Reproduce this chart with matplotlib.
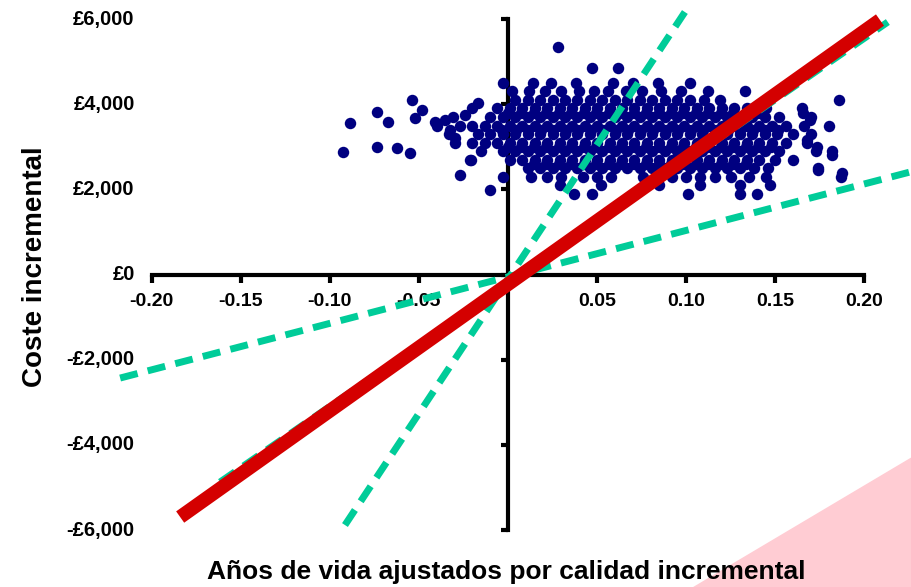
import matplotlib
matplotlib.use("Agg")
import matplotlib.pyplot as plt
from matplotlib.patches import Polygon
import numpy as np

plt.rcParams["font.family"] = ["Liberation Sans", "DejaVu Sans"]
plt.rcParams["font.weight"] = "bold"

# axis ticks
x_ticks = [-0.20, -0.15, -0.10, -0.05, 0.05, 0.10, 0.15, 0.20]
x_tick_labels = ["-0.20", "-0.15", "-0.10", "-0.05", "0.05", "0.10", "0.15", "0.20"]
y_ticks = [6000, 4000, 2000, 0, -2000, -4000, -6000]
y_tick_labels = ["£6,000", "£4,000", "£2,000", "£0", "-£2,000", "-£4,000", "-£6,000"]

# threshold lines (end points)
red_x = [-0.184, 0.2088]
red_y = [-5695, 5977]
green_steep_x = [-0.0915, 0.0993]
green_steep_y = [-5883, 6165]
green_flat_x = [-0.2177, 0.2256]
green_flat_y = [-2431, 2407]
green_mid_x = [-0.1616, 0.2132]
green_mid_y = [-4873, 5930]

# bootstrap cloud, read row by row (cost level -> incremental QALYs)
cost_levels = [5350, 4850, 4500, 4300, 4100, 3900, 3700, 3500, 3300, 3100,
               2900, 2700, 2500, 2300, 2100, 1900]
qaly_rows = [
    [0.028],
    [0.047, 0.062],
    [-0.003, 0.014, 0.024, 0.038, 0.059, 0.070, 0.084, 0.102],
    [0.002, 0.012, 0.021, 0.030, 0.040, 0.048, 0.056, 0.066, 0.075, 0.086,
     0.097, 0.112, 0.133],
    [0.004, 0.011, 0.018, 0.025, 0.032, 0.039, 0.046, 0.053, 0.060, 0.067,
     0.074, 0.081, 0.088, 0.095, 0.102, 0.110, 0.119, 0.186],
    [-0.020, -0.006, 0.001, 0.008, 0.015, 0.022, 0.029, 0.036, 0.043, 0.050,
     0.057, 0.064, 0.071, 0.078, 0.085, 0.092, 0.099, 0.106, 0.113, 0.120,
     0.127, 0.134, 0.145, 0.165],
    [-0.031, -0.010, -0.003, 0.004, 0.011, 0.018, 0.025, 0.032, 0.039, 0.046,
     0.053, 0.060, 0.067, 0.074, 0.081, 0.088, 0.095, 0.102, 0.109, 0.116,
     0.123, 0.130, 0.137, 0.144, 0.152, 0.170],
    [-0.040, -0.027, -0.020, -0.013, -0.006, 0.001, 0.008, 0.015, 0.022, 0.029,
     0.036, 0.043, 0.050, 0.057, 0.064, 0.071, 0.078, 0.085, 0.092, 0.099,
     0.106, 0.113, 0.120, 0.127, 0.134, 0.141, 0.148, 0.156, 0.166, 0.180],
    [-0.033, -0.017, -0.010, -0.003, 0.004, 0.011, 0.018, 0.025, 0.032, 0.039,
     0.046, 0.053, 0.060, 0.067, 0.074, 0.081, 0.088, 0.095, 0.102, 0.109,
     0.116, 0.123, 0.130, 0.137, 0.144, 0.151, 0.160, 0.170],
    [-0.030, -0.020, -0.013, -0.006, 0.001, 0.008, 0.015, 0.022, 0.029, 0.036,
     0.043, 0.050, 0.057, 0.064, 0.071, 0.078, 0.085, 0.092, 0.099, 0.106,
     0.113, 0.120, 0.127, 0.134, 0.141, 0.148, 0.156, 0.168],
    [-0.015, -0.003, 0.004, 0.011, 0.018, 0.025, 0.032, 0.039, 0.046, 0.053,
     0.060, 0.067, 0.074, 0.081, 0.088, 0.095, 0.102, 0.109, 0.116, 0.123,
     0.130, 0.137, 0.144, 0.152, 0.173, 0.182],
    [-0.021, 0.001, 0.008, 0.015, 0.022, 0.029, 0.036, 0.043, 0.050, 0.057,
     0.064, 0.071, 0.078, 0.085, 0.092, 0.099, 0.106, 0.113, 0.120, 0.127,
     0.134, 0.141, 0.150, 0.160],
    [0.011, 0.018, 0.025, 0.032, 0.039, 0.046, 0.053, 0.060, 0.067, 0.074,
     0.081, 0.088, 0.095, 0.102, 0.109, 0.116, 0.123, 0.130, 0.138, 0.146,
     0.174],
    [-0.003, 0.013, 0.022, 0.030, 0.042, 0.050, 0.058, 0.076, 0.084, 0.092,
     0.100, 0.108, 0.116, 0.125, 0.135, 0.145, 0.187],
    [0.029, 0.052, 0.085, 0.108, 0.130, 0.147],
    [0.037, 0.047, 0.101, 0.130, 0.140],
]

# the densest part of the cloud, between the rows above
core_levels = [3800, 3400, 3000, 2600]
core_rows = [
    [0.000, 0.0075, 0.0145, 0.0215, 0.0285, 0.0355, 0.0425, 0.0495, 0.0565,
     0.0635, 0.0705, 0.0775, 0.0845, 0.0915, 0.0985, 0.1055, 0.1125, 0.1195,
     0.1265, 0.1335, 0.1405],
    [-0.0035, 0.0045, 0.0115, 0.0185, 0.0255, 0.0325, 0.0395, 0.0465, 0.0535,
     0.0605, 0.0675, 0.0745, 0.0815, 0.0885, 0.0955, 0.1025, 0.1095, 0.1165,
     0.1235, 0.1305, 0.1375, 0.1445, 0.1515],
    [0.000, 0.0075, 0.0145, 0.0215, 0.0285, 0.0355, 0.0425, 0.0495, 0.0565,
     0.0635, 0.0705, 0.0775, 0.0845, 0.0915, 0.0985, 0.1055, 0.1125, 0.1195,
     0.1265, 0.1335, 0.1405, 0.1475],
    [0.0145, 0.0215, 0.0285, 0.0355, 0.0425, 0.0495, 0.0565, 0.0635, 0.0705,
     0.0775, 0.0845, 0.0915, 0.0985, 0.1055, 0.1125, 0.1195, 0.1265, 0.1335],
]

# scattered points away from the main cloud
outlier_x = [-0.0926, -0.0887, -0.0735, -0.0735, -0.0673, -0.0623, -0.0550,
             -0.0539, -0.0522, -0.0483, -0.0410, -0.0354, -0.0325, -0.0297,
             -0.0269, -0.0168, -0.0101, -0.0213, -0.0240,
             0.1655, 0.1695, 0.1680, 0.1734, 0.1820, 0.1740, 0.1874]
outlier_y = [2880, 3560, 3820, 2995, 3580, 2970, 2850,
             4100, 3675, 3860, 3580, 3630, 3390, 3200,
             2340, 4030, 1985, 2690, 3750,
             3790, 3630, 3160, 2995, 2800, 2450, 2380]

all_rows = qaly_rows + core_rows
all_levels = cost_levels + core_levels
cloud_x = np.concatenate([np.array(r) for r in all_rows] + [np.array(outlier_x)])
cloud_y = np.concatenate([np.full(len(r), c) for r, c in zip(all_rows, all_levels)]
                         + [np.array(outlier_y)])

fig = plt.figure(figsize=(9.12, 5.87), dpi=100)
fig.patches.append(Polygon([[0.760, 0.0], [1.0, 0.2215], [1.0, 0.0]], closed=True,
                           transform=fig.transFigure, facecolor="#ffccd3",
                           edgecolor="none", zorder=-1))

ax = fig.add_axes([0.1155, 0.0753, 0.883, 0.8995])
ax.patch.set_visible(False)
ax.set_xlim(-0.226, 0.226)
ax.set_ylim(-6300, 6100)

ax.scatter(cloud_x, cloud_y, s=68, color="#000080", linewidths=0, zorder=3)

green = "#00cc99"
dash = (0, (2.6, 1.5))
for gx, gy in [(green_steep_x, green_steep_y), (green_flat_x, green_flat_y),
               (green_mid_x, green_mid_y)]:
    ax.plot(gx, gy, color=green, lw=5, linestyle=dash, dash_capstyle="butt",
            zorder=4, clip_on=False)
ax.plot(red_x, red_y, color="#d40000", lw=10, solid_capstyle="butt", zorder=5,
        clip_on=False)

for side in ["top", "right"]:
    ax.spines[side].set_visible(False)
ax.spines["left"].set_position(("data", 0))
ax.spines["bottom"].set_position(("data", 0))
ax.spines["left"].set_bounds(-6000, 6000)
ax.spines["bottom"].set_bounds(-0.2, 0.2)
for side in ["left", "bottom"]:
    ax.spines[side].set_linewidth(3)
    ax.spines[side].set_zorder(2)

ax.set_xticks(x_ticks, x_tick_labels)
ax.set_yticks(y_ticks)
ax.tick_params(axis="x", direction="out", length=6, width=3, pad=7, labelsize=14)
ax.tick_params(axis="y", direction="out", length=5, width=3, labelleft=False)
for lab in ax.get_xticklabels():
    lab.set_fontweight("bold")

for val, lab in zip(y_ticks, y_tick_labels):
    ax.text(-0.2095, val, lab, ha="right", va="center", fontsize=14.5,
            fontweight="bold")

fig.text(0.038, 1 - 267 / 587, "Coste incremental", rotation=90, ha="center",
         va="center", fontsize=20, fontweight="bold")
fig.text(506 / 912, 1 - 572 / 587, "Años de vida ajustados por calidad incremental",
         ha="center", va="center", fontsize=19, fontweight="bold")

fig.savefig("out.png", dpi=100)
